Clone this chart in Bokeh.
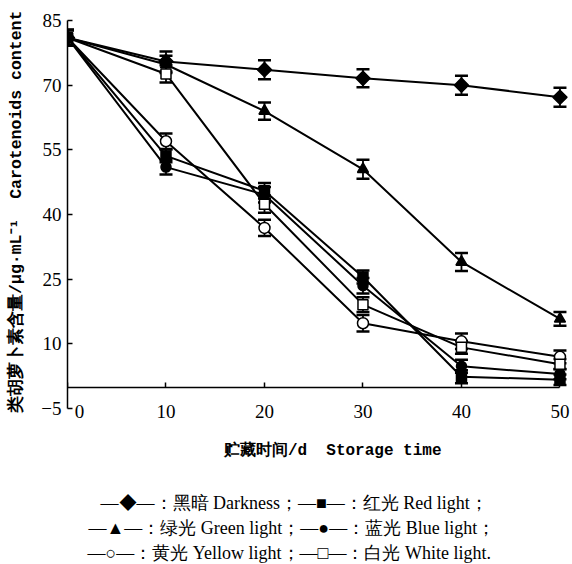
import math
from bokeh.plotting import figure
from bokeh.models import (ColumnDataSource, Whisker, TeeHead, LinearAxis,
                          FixedTicker, Range1d, Title)
from bokeh.embed import file_html
from bokeh.resources import INLINE

# ---- data ----
days = [0, 10, 20, 30, 40, 50]
dark = [81.0, 75.5, 73.6, 71.6, 70.0, 67.2]
red = [81.0, 53.6, 45.5, 25.5, 2.4, 1.7]
green = [81.0, 74.8, 64.0, 50.5, 29.0, 15.8]
blue = [81.0, 51.0, 44.6, 23.5, 4.8, 3.0]
yellow = [81.0, 57.0, 36.9, 14.8, 10.6, 7.0]
white = [81.0, 72.6, 42.4, 19.1, 9.2, 5.3]

dark_err = [1.8, 2.3, 2.2, 2.1, 2.2, 2.2]
red_err = [1.8, 1.5, 1.8, 1.5, 1.5, 1.2]
green_err = [1.8, 2.0, 2.0, 2.2, 2.1, 1.6]
blue_err = [1.8, 1.7, 1.8, 1.8, 1.5, 1.2]
yellow_err = [1.8, 1.8, 1.9, 1.9, 1.8, 1.5]
white_err = [1.8, 2.0, 2.0, 1.7, 1.5, 1.2]

x_ticks = [0, 10, 20, 30, 40, 50]
y_ticks = [-5, 10, 25, 40, 55, 70, 85]

y_title = "\u00a0" * 6 + "类胡萝卜素含量/μg·mL⁻¹\u00a0\u00a0Carotenoids content"
x_title = "\u00a0" * 4 + "贮藏时间/d\u00a0\u00a0Storage time"
legend_lines = [
    "—◆—：黑暗 Darkness；—■—：红光 Red light；",
    "—▲—：绿光 Green light；—●—：蓝光 Blue light；",
    "—○—：黄光 Yellow light；—□—：白光 White light.",
]

# ---- figure ----
p = figure(width=570, height=564, output_backend="svg", toolbar_location=None,
           x_range=Range1d(0, 51.07), y_range=Range1d(-17.5, 85),
           x_axis_location=None,
           min_border_left=67, min_border_right=0, min_border_top=20,
           min_border_bottom=102)
p.outline_line_color = None
p.grid.visible = False
p.background_fill_color = "white"

series = [
    (dark, dark_err, "square", 10, math.pi / 4, "black"),
    (green, green_err, "triangle", 11, 0, "black"),
    (blue, blue_err, "circle", 10, 0, "black"),
    (yellow, yellow_err, "circle", 11, 0, "white"),
    (white, white_err, "square", 10, 0, "white"),
    (red, red_err, "square", 10, 0, "black"),
]

for vals, errs, mk, sz, ang, fill in series:
    p.line(days, vals, line_width=2, line_color="black")

for vals, errs, mk, sz, ang, fill in series:
    src = ColumnDataSource(dict(x=days,
                                upper=[v + e for v, e in zip(vals, errs)],
                                lower=[v - e for v, e in zip(vals, errs)]))
    w = Whisker(source=src, base="x", upper="upper", lower="lower",
                line_color="black", line_width=1.8,
                upper_head=TeeHead(size=13, line_width=2.5, line_color="black"),
                lower_head=TeeHead(size=13, line_width=2.5, line_color="black"))
    p.add_layout(w)

for vals, errs, mk, sz, ang, fill in series:
    p.scatter(days, vals, marker=mk, size=sz, angle=ang, fill_color=fill,
              line_color="black", line_width=1.5)

# ---- y axis ----
yax = p.yaxis[0]
yax.ticker = FixedTicker(ticks=y_ticks)
yax.bounds = (-5, 85)
yax.major_tick_in = 5
yax.major_tick_out = 0
yax.minor_tick_line_color = None
yax.axis_line_width = 1.5
yax.major_tick_line_width = 1.5
yax.major_label_text_font = "Liberation Serif"
yax.major_label_text_font_size = "19px"
yax.major_label_text_color = "black"
yax.major_label_standoff = 6
yax.axis_label = y_title
yax.axis_label_text_font = "Liberation Mono"
yax.axis_label_text_font_size = "16.5px"
yax.axis_label_text_font_style = "bold"
yax.axis_label_text_color = "black"
yax.axis_label_standoff = 12

# ---- x axis: line at y = 0, labels below ----
xax = LinearAxis(fixed_location=0, ticker=FixedTicker(ticks=x_ticks),
                 bounds=(0, 50), major_tick_in=5, major_tick_out=0,
                 minor_tick_line_color=None, axis_line_width=1.6,
                 major_tick_line_width=1.5, major_label_standoff=14,
                 major_label_overrides={0: "\u00a0" * 5 + "0"},
                 major_label_text_font="Liberation Serif",
                 major_label_text_font_size="19px",
                 major_label_text_color="black",
                 axis_label=x_title, axis_label_text_font="Liberation Mono",
                 axis_label_text_font_size="16px",
                 axis_label_text_font_style="bold",
                 axis_label_text_color="black", axis_label_standoff=16)
p.add_layout(xax, "below")

# ---- caption legend (three centred lines below the chart) ----
p.add_layout(Title(text="\u00a0", standoff=5, text_font="Liberation Serif",
                   text_font_size="18px"), "below")
offsets = [33, 21, 20]
for txt, off in zip(legend_lines, offsets):
    p.add_layout(Title(text=txt, align="left", offset=off, standoff=3,
                       text_font="Liberation Serif", text_font_size="18px",
                       text_font_style="normal", text_color="black"), "below")

open("out.html", "w").write(file_html(p, INLINE))
